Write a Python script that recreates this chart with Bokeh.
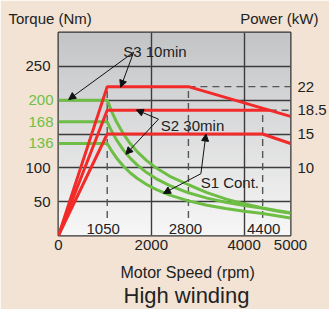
import numpy as np
from bokeh.plotting import figure
from bokeh.models import (Range1d, FixedTicker, LinearAxis, LabelSet, Label, Title,
                          ColumnDataSource, Arrow, NormalHead)
from bokeh.core.properties import value
from bokeh.embed import file_html
from bokeh.resources import INLINE

# ---------------- data ----------------
speed_ticks = [0, 2000, 4000, 5000]
torque_ticks_black = [50, 100, 250]
torque_ticks_green = [136, 168, 200]
power_ticks = [10, 15, 18.5, 22]
power_tick_labels = ["10", "15", "18.5", "22"]
torque_grid = [50, 100, 150, 200, 250]
speed_grid = [2000, 4000]
marked_speeds = [1050, 2800, 4400]

# power curves (kW)
s3_speed = [0, 1050, 2800, 5000]
s3_power = [0, 22, 22, 17.6]
s2_speed = [0, 1050, 4550]
s2_power = [0, 18.5, 18.5]
s1_speed = [0, 1050, 4400, 5000]
s1_power = [0, 15, 15, 13.6]

# torque curves (Nm)
tq_speed = [0, 1050, 1150, 1250, 1400, 1550, 1700, 1900, 2100, 2400, 2800,
            3200, 3600, 4000, 4400, 4700, 5000]
s3_torque = [200, 200, 182.7, 168, 150, 135.5, 123.6, 110.6, 100, 87.5, 75,
             63.3, 54.1, 46.8, 40.8, 37.0, 33.6]
s2_torque = [168, 168, 153.6, 141.3, 126.2, 114, 103.9, 93, 84.1, 73.6, 63.1,
             55.2, 49.1, 44.2, 40.1, 36.0, 32.8]
s1_torque = [136, 136, 124.6, 114.6, 102.3, 92.4, 84.3, 75.4, 68.2, 59.7, 51.2,
             44.8, 39.8, 35.8, 32.6, 29.1, 26.0]

# dashed guide levels (kW)
vdash_top = [s3_power[1], s3_power[2], s2_power[2]]
hdash_start = [s3_speed[2], s2_speed[2]]
hdash_level = [s3_power[2], s2_power[2]]

# ---------------- styles ----------------
RED = "#f22a2a"
GREEN = "#6ebe46"
GREEN_TXT = "#6fbf44"
DARK = "#222222"
GRIDC = "#3c3c3c"
FONT = "Liberation Sans"
BG = "#f2e3d4"
FS = "15px"

p = figure(width=329, height=309, x_range=Range1d(0, 5000), y_range=Range1d(0, 300),
           output_backend="svg", toolbar_location=None, title=None,
           min_border_left=58, min_border_right=10, min_border_top=32, min_border_bottom=74)
p.extra_y_ranges = {"power": Range1d(0, 30)}
p.border_fill_color = BG
p.background_fill_color = "#e0e0e0"
p.outline_line_color = "#333333"
p.outline_line_width = 2


def style_axis(ax, color=DARK, standoff=5):
    ax.axis_line_color = None
    ax.major_tick_line_color = None
    ax.minor_tick_line_color = None
    ax.major_tick_in = 0
    ax.major_tick_out = 0
    ax.minor_tick_in = 0
    ax.minor_tick_out = 0
    ax.major_label_text_color = color
    ax.major_label_text_font = FONT
    ax.major_label_text_font_size = FS
    ax.major_label_standoff = standoff


def title(text, align, offset, standoff, size=FS):
    return Title(text=text, align=align, offset=offset, standoff=standoff,
                 text_font=FONT, text_font_size=size, text_font_style="normal",
                 text_color=DARK)


# top titles (first one sits next to the frame, second one is pulled onto the same line)
p.add_layout(title("Power (kW)", "right", -28, 11), "above")
p.add_layout(title("Torque (Nm)", "left", -50, -48), "above")

# bottom axis
xa = p.xaxis[0]
xa.ticker = FixedTicker(ticks=speed_ticks)
style_axis(xa, standoff=4)

# bottom titles
p.add_layout(title("Motor Speed (rpm)", "left", 62, 18, "16px"), "below")
p.add_layout(title("High winding", "left", 65, -17, "22px"), "below")

# left axis (inner, green labels)
ya = p.yaxis[0]
ya.ticker = FixedTicker(ticks=torque_ticks_green)
style_axis(ya, color=GREEN_TXT, standoff=5)

# left axis (outer, black labels pulled in to share the same column)
ya2 = LinearAxis(ticker=FixedTicker(ticks=torque_ticks_black))
style_axis(ya2, standoff=-25)
p.add_layout(ya2, "left")

# right axis (power)
ra = LinearAxis(y_range_name="power", ticker=FixedTicker(ticks=power_ticks),
                major_label_overrides={t: s for t, s in zip(power_ticks, power_tick_labels)})
style_axis(ra, standoff=7)
p.add_layout(ra, "right")

# grids
p.xgrid.ticker = FixedTicker(ticks=speed_grid)
p.ygrid.ticker = FixedTicker(ticks=torque_grid)
for g in (p.xgrid[0], p.ygrid[0]):
    g.grid_line_color = GRIDC
    g.grid_line_width = 1.4

# vertical gradient for plot area (style only)
n = 64
t = np.linspace(0, 1, n)
ctop = np.array([196, 197, 199], dtype=float)
cbot = np.array([247, 247, 247], dtype=float)
cols = (cbot + (ctop - cbot) * t[:, None]).astype(np.uint8)
img = np.empty((n, 1), dtype=np.uint32)
view = img.view(dtype=np.uint8).reshape((n, 1, 4))
view[:, 0, 0:3] = cols
view[:, 0, 3] = 255
p.image_rgba(image=[img], x=0, y=0, dw=5000, dh=300, level="image")

# dashed guides
p.segment(x0=marked_speeds, y0=[2.6] * len(marked_speeds), x1=marked_speeds, y1=vdash_top,
          y_range_name="power", line_color="#555555", line_width=1.4, line_dash="7 5")
p.segment(x0=hdash_start, y0=hdash_level, x1=[5000] * len(hdash_start), y1=hdash_level,
          y_range_name="power", line_color="#555555", line_width=1.4, line_dash="7 5")

# torque curves (green)
for tq in (s3_torque, s2_torque, s1_torque):
    p.line(tq_speed, tq, line_color=GREEN, line_width=3)

# power curves (red)
for sp, pw in ((s3_speed, s3_power), (s2_speed, s2_power), (s1_speed, s1_power)):
    p.line(sp, pw, y_range_name="power", line_color=RED, line_width=3)

# speed markers inside the plot
marked_src = ColumnDataSource(dict(x=marked_speeds, text=[str(v) for v in marked_speeds],
                                   dx=[-4, -3, 1]))
p.add_layout(LabelSet(source=marked_src, x="x", y=0, text="text", x_offset="dx", y_offset=1.8,
                      text_align="center", text_baseline="alphabetic", text_color=DARK,
                      text_font=value(FONT), text_font_size=value(FS)))

# annotations
for x, y, s in ((1394, 272.6, "S3 10min"), (2206, 161.9, "S2 30min"), (3064, 77.9, "S1 Cont.")):
    p.add_layout(Label(x=x, y=y, text=s, text_align="left", text_baseline="alphabetic",
                       text_color=DARK, text_font=FONT, text_font_size=FS))

arrows = [
    (1621, 271, 219, 200.9),
    (1621, 271, 1340, 219),
    (2155, 171.9, 1677, 185.6),
    (2155, 171.9, 1451, 120),
    (3069, 91.3, 3178, 150),
    (3069, 91.3, 2261, 62.2),
]
for xs, ys, xe, ye in arrows:
    p.add_layout(Arrow(end=NormalHead(size=7, fill_color="#111111", line_color="#111111", line_width=1),
                       x_start=xs, y_start=ys, x_end=xe, y_end=ye,
                       line_color="#111111", line_width=1))

open("out.html", "w").write(file_html(p, INLINE))
